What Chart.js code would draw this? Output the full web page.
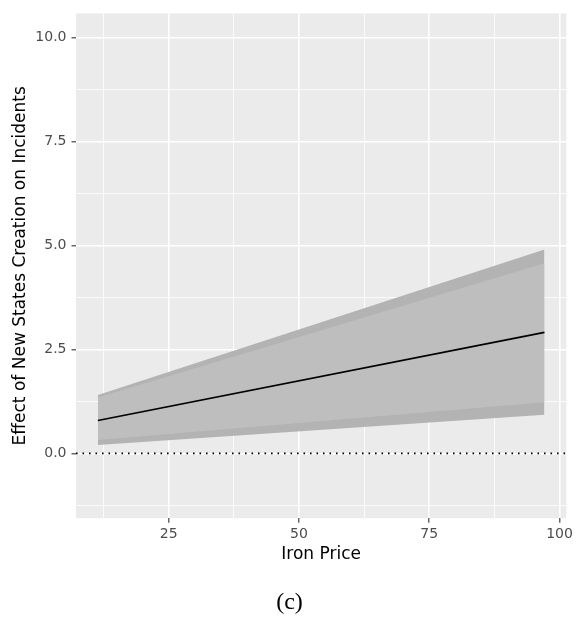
<!DOCTYPE html>
<html>
<head>
<meta charset="utf-8">
<script src="https://cdn.jsdelivr.net/npm/chart.js@4.4.1/dist/chart.umd.min.js"></script>
<style>
  body { margin: 0; background: #fff; }
  canvas { display: block; }
</style>
</head>
<body>
<canvas id="effect_chart" width="576" height="626"></canvas>
<script>
// marginal effect of new states creation across iron price
var ironPrice = [11.4, 97.1];
var estimate = [0.79, 2.91];
var ci95Lower = [0.20, 0.93];
var ci95Upper = [1.40, 4.90];
var ci90Lower = [0.32, 1.23];
var ci90Upper = [1.34, 4.57];

var xTicks = [12.5, 25, 37.5, 50, 62.5, 75, 87.5, 100];
var yTicks = [-1.25, 0, 1.25, 2.5, 3.75, 5, 6.25, 7.5, 8.75, 10];
var xRange = [7.2, 101.3];
var yRange = [-1.56, 10.58];

function points(ys){
    return ironPrice.map(function(x, i){ return {x: x, y: ys[i]}; });
}

function isMajorX(v){ return v % 25 === 0; }
function isMajorY(v){ return v % 2.5 === 0; }

var panelBackground = {
    id: 'panelBackground',
    beforeDraw: function(chart){
        var a = chart.chartArea;
        var ctx = chart.ctx;
        ctx.save();
        ctx.fillStyle = '#ebebeb';
        ctx.fillRect(a.left, a.top, a.right - a.left, a.bottom - a.top);
        ctx.restore();
    }
};

function init(){
    var ctx = document.getElementById('effect_chart').getContext('2d');
    var fontFamily = '"DejaVu Sans", sans-serif';

    // chart.js paints the last dataset first, so the topmost marks come first here
    new Chart(ctx, {
        type: 'line',
        data: {
            datasets: [
                // dotted reference line at zero
                { data: [{x: xRange[0], y: 0}, {x: xRange[1], y: 0}], borderColor: '#000', borderWidth: 1.6,
                  borderDash: [1.6, 4.9], pointRadius: 0, fill: false },
                { data: points(estimate), borderColor: '#000', borderWidth: 1.7, pointRadius: 0, fill: false },
                { data: points(ci90Upper), borderColor: 'transparent', borderWidth: 0, pointRadius: 0,
                  fill: '+1', backgroundColor: '#bebebe' },
                { data: points(ci90Lower), borderColor: 'transparent', borderWidth: 0, pointRadius: 0, fill: false },
                { data: points(ci95Upper), borderColor: 'transparent', borderWidth: 0, pointRadius: 0,
                  fill: '+1', backgroundColor: '#b3b3b3' },
                { data: points(ci95Lower), borderColor: 'transparent', borderWidth: 0, pointRadius: 0, fill: false }
            ]
        },
        options: {
            responsive: false,
            animation: false,
            events: [],
            layout: { padding: { left: 10, right: 7, top: 7, bottom: 0 } },
            plugins: {
                legend: { display: false },
                tooltip: { enabled: false },
                title: {
                    display: true,
                    position: 'bottom',
                    text: '(c)',
                    color: '#000',
                    font: { family: '"Liberation Serif", "Times New Roman", serif', size: 24, weight: 'normal' },
                    padding: { top: 10, bottom: 9 }
                }
            },
            scales: {
                x: {
                    type: 'linear',
                    min: xRange[0],
                    max: xRange[1],
                    afterBuildTicks: function(scale){
                        scale.ticks = xTicks.map(function(v){ return {value: v}; });
                    },
                    afterFit: function(scale){ scale.height = 60; },
                    border: { display: false },
                    grid: {
                        color: '#fff',
                        lineWidth: function(c){ return c.tick && isMajorX(c.tick.value) ? 1.6 : 0.8; },
                        tickColor: function(c){ return c.tick && isMajorX(c.tick.value) ? '#333' : 'transparent'; },
                        tickWidth: 1.1,
                        tickLength: 4.5
                    },
                    ticks: {
                        autoSkip: false,
                        maxRotation: 0,
                        padding: 3,
                        color: '#4d4d4d',
                        font: { family: fontFamily, size: 14 },
                        callback: function(v){ return isMajorX(v) ? String(v) : ''; }
                    },
                    title: {
                        display: true,
                        text: 'Iron Price',
                        color: '#000',
                        font: { family: fontFamily, size: 17 },
                        padding: { top: 4, bottom: 13 }
                    }
                },
                y: {
                    type: 'linear',
                    min: yRange[0],
                    max: yRange[1],
                    afterBuildTicks: function(scale){
                        scale.ticks = yTicks.map(function(v){ return {value: v}; });
                    },
                    afterFit: function(scale){ scale.width = 66; },
                    border: { display: false },
                    grid: {
                        color: '#fff',
                        lineWidth: function(c){ return c.tick && isMajorY(c.tick.value) ? 1.6 : 0.8; },
                        tickColor: function(c){ return c.tick && isMajorY(c.tick.value) ? '#333' : 'transparent'; },
                        tickWidth: 1.1,
                        tickLength: 4.5
                    },
                    ticks: {
                        autoSkip: false,
                        padding: 5,
                        color: '#4d4d4d',
                        font: { family: fontFamily, size: 14 },
                        callback: function(v){ return isMajorY(v) ? v.toFixed(1) : ''; }
                    },
                    title: {
                        display: true,
                        text: 'Effect of New States Creation on Incidents',
                        color: '#000',
                        font: { family: fontFamily, size: 17 },
                        padding: { top: 0, bottom: 0 }
                    }
                }
            }
        },
        plugins: [panelBackground]
    });
}

window.onload = init;
</script>
</body>
</html>
